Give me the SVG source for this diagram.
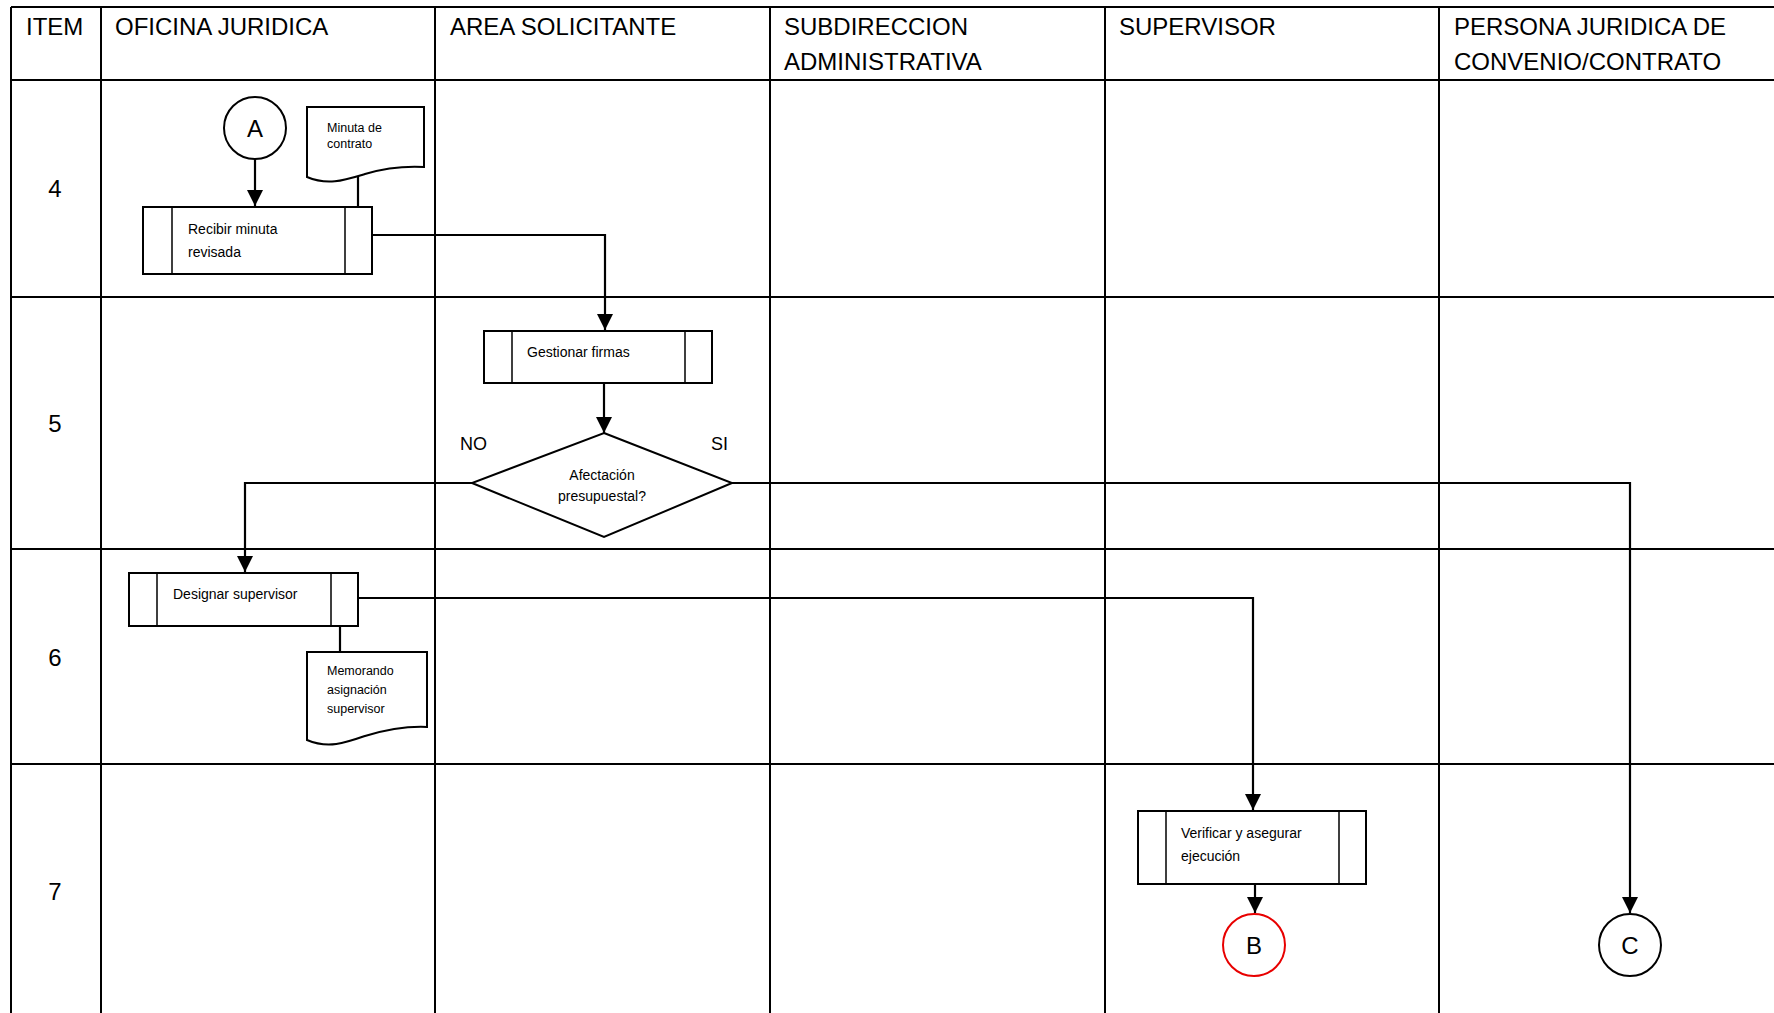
<svg xmlns="http://www.w3.org/2000/svg" width="1774" height="1013" viewBox="0 0 1774 1013">
<defs>
<style>
text{font-family:"Liberation Sans",Arial,sans-serif;fill:#000}
.hdr{font-size:24px}
.num{font-size:24px;text-anchor:middle}
.lbl{font-size:18px}
.t14{font-size:14px}
.t12{font-size:12.5px}
.conn{font-size:24px;text-anchor:middle}
.grid{stroke:#000;stroke-width:2;fill:none}
.shape{stroke:#000;stroke-width:2;fill:#fff}
.inner{stroke:#000;stroke-width:1.5;fill:none}
.edge{stroke:#000;stroke-width:2.2;fill:none}
</style>
<marker id="arr" viewBox="0 0 10 10" refX="10" refY="5" markerWidth="16" markerHeight="16" markerUnits="userSpaceOnUse" orient="auto">
<path d="M0,0 L10,5 L0,10 z" fill="#000"/>
</marker>
</defs>
<rect width="1774" height="1013" fill="#fff"/>
<g id="table">
<path class="grid" d="M11,7 H1774 M11,80 H1774 M11,297 H1774 M11,549 H1774 M11,764 H1774 M11,7 V1013 M101,7 V1013 M435,7 V1013 M770,7 V1013 M1105,7 V1013 M1439,7 V1013"/>
<text class="hdr" x="26" y="35">ITEM</text>
<text class="hdr" x="115" y="35">OFICINA JURIDICA</text>
<text class="hdr" x="450" y="35">AREA SOLICITANTE</text>
<text class="hdr" x="784" y="35">SUBDIRECCION</text>
<text class="hdr" x="784" y="70">ADMINISTRATIVA</text>
<text class="hdr" x="1119" y="35">SUPERVISOR</text>
<text class="hdr" x="1454" y="35">PERSONA JURIDICA DE</text>
<text class="hdr" x="1454" y="70">CONVENIO/CONTRATO</text>
<text class="num" x="55" y="197">4</text>
<text class="num" x="55" y="432">5</text>
<text class="num" x="55" y="666">6</text>
<text class="num" x="55" y="900">7</text>
</g>
<g id="connectors">
<path class="edge" d="M255,159 V206" marker-end="url(#arr)"/>
<path class="edge" d="M358,176 V207"/>
<path class="edge" d="M372,235 H605 V330" marker-end="url(#arr)"/>
<path class="edge" d="M604,383 V433" marker-end="url(#arr)"/>
<path class="edge" d="M472,483 H245 V572" marker-end="url(#arr)"/>
<path class="edge" d="M732,483 H1630 V913" marker-end="url(#arr)"/>
<path class="edge" d="M358,598 H1253 V810" marker-end="url(#arr)"/>
<path class="edge" d="M340,626 V652"/>
<path class="edge" d="M1255,884 V913" marker-end="url(#arr)"/>
<text class="lbl" x="460" y="450">NO</text>
<text class="lbl" x="711" y="450">SI</text>
</g>
<g id="connA">
<circle class="shape" cx="255" cy="128" r="31"/>
<text class="conn" x="255" y="137">A</text>
</g>
<g id="docMinuta">
<path class="shape" d="M307,107 H424 V167 C405,166 385,168 365,174 C345,180 328,186 307,177 Z"/>
<text class="t12" x="327" y="132">Minuta de</text>
<text class="t12" x="327" y="148">contrato</text>
</g>
<g id="procRecibir">
<rect class="shape" x="143" y="207" width="229" height="67"/>
<path class="inner" d="M172,207 V274 M345,207 V274"/>
<text class="t14" x="188" y="234">Recibir minuta</text>
<text class="t14" x="188" y="257">revisada</text>
</g>
<g id="procGestionar">
<rect class="shape" x="484" y="331" width="228" height="52"/>
<path class="inner" d="M512,331 V383 M685,331 V383"/>
<text class="t14" x="527" y="357">Gestionar firmas</text>
</g>
<g id="decAfectacion">
<path class="shape" d="M604,433 L732,483 L604,537 L472,483 Z"/>
<text class="t14" x="602" y="480" text-anchor="middle">Afectación</text>
<text class="t14" x="602" y="501" text-anchor="middle">presupuestal?</text>
</g>
<g id="procDesignar">
<rect class="shape" x="129" y="573" width="229" height="53"/>
<path class="inner" d="M157,573 V626 M331,573 V626"/>
<text class="t14" x="173" y="599">Designar supervisor</text>
</g>
<g id="docMemorando">
<path class="shape" d="M307,652 H427 V727 C405,726 385,730 365,736 C345,743 328,749 307,740 Z"/>
<text class="t12" x="327" y="675">Memorando</text>
<text class="t12" x="327" y="694">asignación</text>
<text class="t12" x="327" y="713">supervisor</text>
</g>
<g id="procVerificar">
<rect class="shape" x="1138" y="811" width="228" height="73"/>
<path class="inner" d="M1166,811 V884 M1339,811 V884"/>
<text class="t14" x="1181" y="838">Verificar y asegurar</text>
<text class="t14" x="1181" y="861">ejecución</text>
</g>
<g id="connB">
<circle cx="1254" cy="945" r="31" fill="#fff" stroke="#e80000" stroke-width="2"/>
<text class="conn" x="1254" y="954">B</text>
</g>
<g id="connC">
<circle class="shape" cx="1630" cy="945" r="31"/>
<text class="conn" x="1630" y="954">C</text>
</g>
</svg>
